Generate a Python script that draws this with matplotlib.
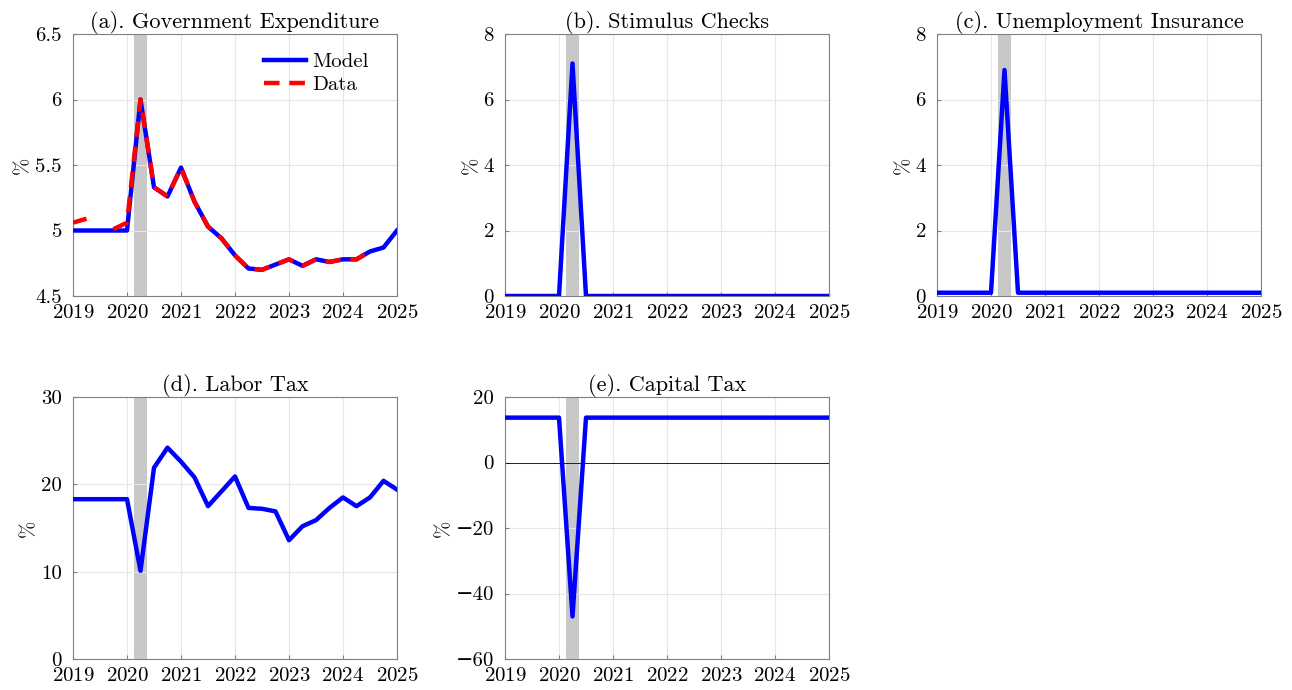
import numpy as np
import matplotlib
matplotlib.use('Agg')
import matplotlib.pyplot as plt

plt.rcParams['font.family'] = ['cmr10', 'DejaVu Serif']
plt.rcParams['mathtext.fontset'] = 'cm'
plt.rcParams['axes.formatter.use_mathtext'] = True
plt.rcParams['font.size'] = 15

t = 2019 + 0.25 * np.arange(25)

gov_model = [5.0, 5.0, 5.0, 5.0, 5.0, 6.0, 5.33, 5.26, 5.48, 5.22, 5.03, 4.94, 4.81,
             4.71, 4.70, 4.74, 4.78, 4.73, 4.78, 4.76, 4.78, 4.78, 4.84, 4.87, 5.0]
gov_data = [5.06, 5.09, np.nan, 5.01, 5.06, 6.0, 5.33, 5.26, 5.48, 5.22, 5.03, 4.94, 4.81,
            4.71, 4.70, 4.74, 4.78, 4.73, 4.78, 4.76, 4.78, 4.78, 4.84, np.nan, np.nan]
stim = [0, 0, 0, 0, 0, 7.1] + [0] * 19
ui = [0.1, 0.1, 0.1, 0.1, 0.1, 6.9] + [0.1] * 19
labor = [18.3, 18.3, 18.3, 18.3, 18.3, 10.1, 21.9, 24.2, 22.6, 20.8, 17.5, 19.2, 20.9,
         17.3, 17.2, 16.9, 13.6, 15.2, 15.9, 17.3, 18.5, 17.5, 18.5, 20.4, 19.4]
capital = [13.7, 13.7, 13.7, 13.7, 13.7, -47.0] + [13.7] * 19

titles = ['(a). Government Expenditure', '(b). Stimulus Checks',
          '(c). Unemployment Insurance', '(d). Labor Tax', '(e). Capital Tax']
series = [gov_model, stim, ui, labor, capital]
ylims = [(4.5, 6.5), (0, 8), (0, 8), (0, 30), (-60, 20)]
yticks = [[4.5, 5, 5.5, 6, 6.5], [0, 2, 4, 6, 8], [0, 2, 4, 6, 8],
          [0, 10, 20, 30], [-60, -40, -20, 0, 20]]

fig = plt.figure(figsize=(12.92, 6.9), dpi=100)
W, H = 1292, 690
boxes = [(73, 34), (505, 34), (937, 34), (73, 397), (505, 397)]
for k, (x0, y0) in enumerate(boxes):
    ax = fig.add_axes([x0 / W, 1 - (y0 + 262) / H, 324 / W, 262 / H])
    ax.axvspan(2020.125, 2020.375, color='#c8c8c8', lw=0, zorder=0)
    if k == 4:
        ax.axhline(0, color='k', lw=0.6, zorder=1)
    ax.plot(t, series[k], color='#0000ff', lw=3.2, label='Model', zorder=3)
    if k == 0:
        ax.plot(t, gov_data, color='#ff0000', lw=3.2, ls=(0, (3.5, 2.2)), label='Data', zorder=4)
        ax.legend(loc='upper right', frameon=False, fontsize=15, handlelength=2.0,
                  handletextpad=0.3, labelspacing=0.2, bbox_to_anchor=(0.97, 1.0))
    ax.set_xlim(2019, 2025)
    ax.set_xticks(range(2019, 2026))
    ax.set_ylim(*ylims[k])
    ax.set_yticks(yticks[k])
    ax.set_yticklabels([('%g' % v).replace('-', '\u2212') for v in yticks[k]])
    ax.set_ylabel('%', labelpad=2)
    ax.set_title(titles[k], fontsize=16, pad=3)
    ax.grid(True, color='#e6e6e6', lw=0.8)
    ax.set_axisbelow(True)
    for s in ax.spines.values():
        s.set_color('#808080')
        s.set_linewidth(0.8)
    ax.tick_params(direction='in', length=3, color='#808080', labelsize=15)
    ax.tick_params(axis='x', pad=6)
    ax.tick_params(axis='y', pad=8)

plt.savefig('out.png', dpi=100)
plt.close()
